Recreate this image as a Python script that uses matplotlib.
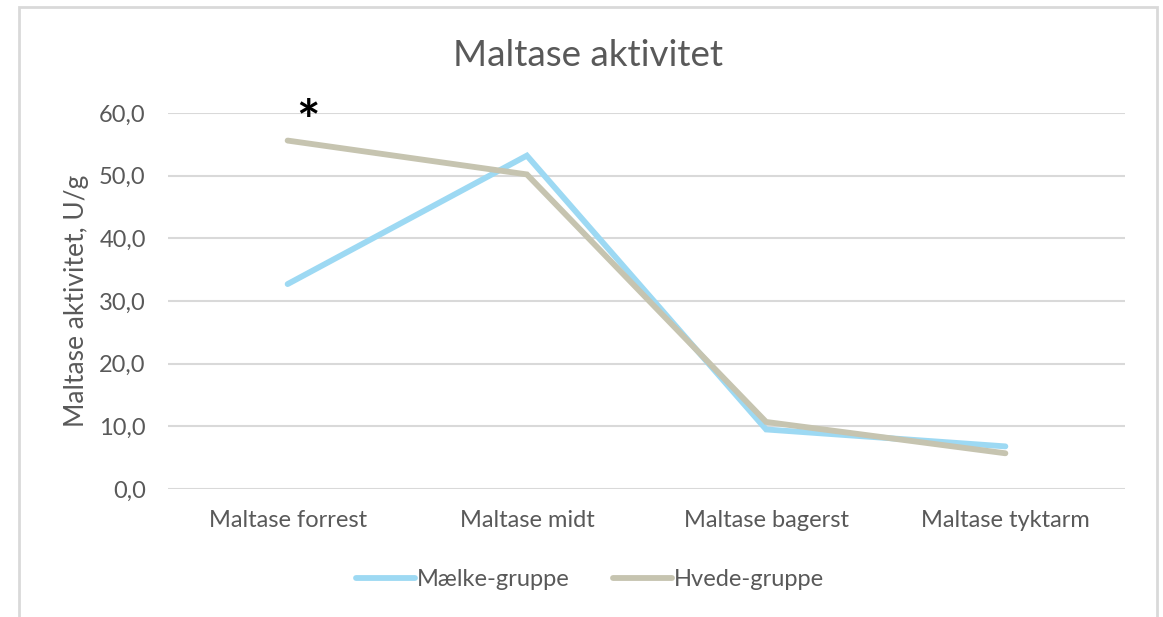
import matplotlib.pyplot as plt
from matplotlib.patches import Rectangle

plt.rcParams["font.family"] = ["Lato", "DejaVu Sans"]

categories = ["Maltase forrest", "Maltase midt", "Maltase bagerst", "Maltase tyktarm"]
maelk = [32.7, 53.2, 9.5, 6.8]
hvede = [55.6, 50.2, 10.7, 5.7]
yticks = [0, 10, 20, 30, 40, 50, 60]

TXT = "#595959"
GRID = "#D9D9D9"

fig = plt.figure(figsize=(11.63, 6.17), dpi=100)
fig.patches.append(Rectangle((19 / 1163, -0.01), (1157 - 19) / 1163, 1 - 7 / 617 + 0.01,
                             transform=fig.transFigure, fill=False,
                             edgecolor=GRID, linewidth=2))

ax = fig.add_axes([168 / 1163, 1 - 489 / 617, (1125 - 168) / 1163, (489 - 113) / 617])
x = range(len(categories))
ax.plot(x, maelk, color="#9DD9F3", lw=4.2, solid_capstyle="round",
        solid_joinstyle="miter", label="Mælke-gruppe", zorder=3)
ax.plot(x, hvede, color="#C6C4B0", lw=4.2, solid_capstyle="round",
        solid_joinstyle="miter", label="Hvede-gruppe", zorder=4)

ax.set_xlim(-0.5, 3.5)
ax.set_ylim(0, 60)
ax.set_yticks(yticks)
ax.set_yticklabels([f"{v:.1f}".replace(".", ",") for v in yticks])
ax.set_xticks(list(x))
ax.set_xticklabels(categories)
ax.tick_params(axis="both", length=0, labelsize=17, colors=TXT)
ax.tick_params(axis="y", pad=16)
ax.tick_params(axis="x", pad=15)
ax.grid(axis="y", color=GRID, lw=1.5)
ax.set_axisbelow(True)
for s in ax.spines.values():
    s.set_visible(False)

ax.set_ylabel("Maltase aktivitet, U/g", fontsize=19, color=TXT, labelpad=7)
fig.text(588 / 1163, 1 - 55 / 617, "Maltase aktivitet", ha="center", va="center",
         fontsize=26.5, color=TXT)

ax.text(0.085, 58.3, "*", ha="center", va="center", fontsize=40,
        fontweight="bold", color="black")

ax.legend(loc="center", bbox_to_anchor=(590 / 1163, 1 - 580 / 617),
          bbox_transform=fig.transFigure, ncol=2, frameon=False,
          fontsize=17, labelcolor=TXT, handlelength=2.5, handletextpad=0.1,
          columnspacing=1.8)

plt.savefig("out.png", dpi=100)
